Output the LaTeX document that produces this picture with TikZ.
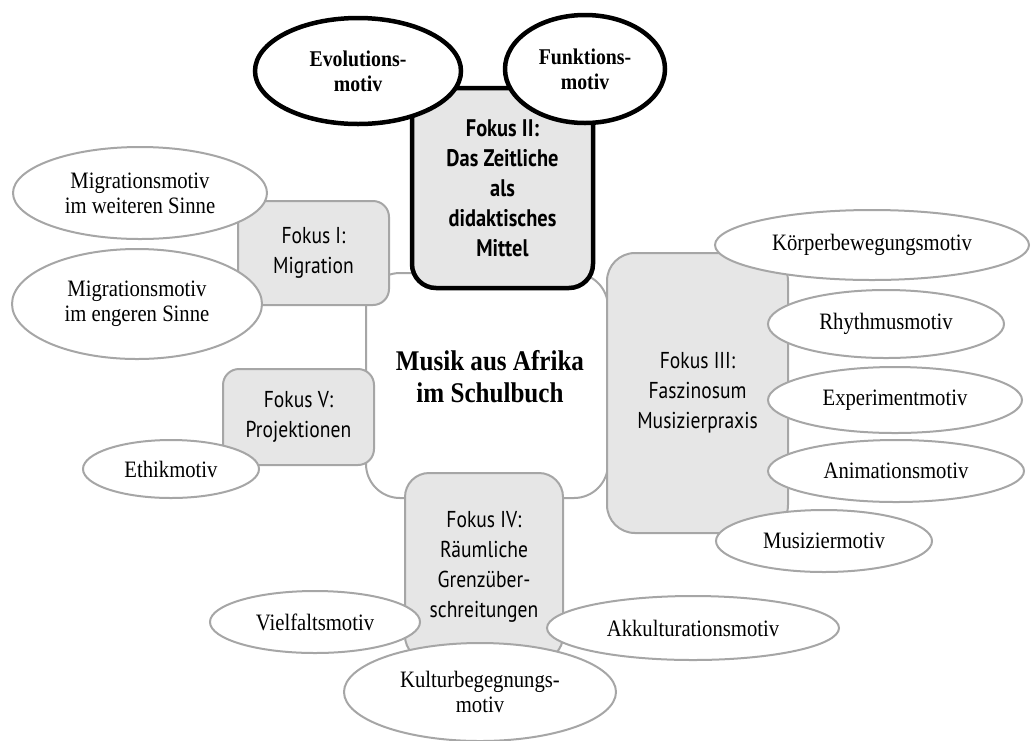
\documentclass[tikz,border=0pt]{standalone}
\usepackage{fontspec}
\setmainfont{Liberation Serif}[FakeStretch=0.88]
\setsansfont{PT Sans}[FakeStretch=0.85]
\usetikzlibrary{shapes.geometric}

\definecolor{edgegray}{HTML}{A6A6A6}
\definecolor{boxgray}{HTML}{E6E6E6}

\tikzset{
  centrebox/.style={draw=edgegray, fill=white, line width=2pt, rounded corners=34pt,
    inner sep=0pt},
  fokusbox/.style={draw=edgegray, fill=boxgray, line width=2pt, align=center,
    inner sep=0pt, font=\sffamily\fontsize{23}{30}\selectfont},
  keybox/.style={draw=black, fill=boxgray, line width=4.5pt, align=center,
    inner sep=0pt, rounded corners=24pt, font=\sffamily\bfseries\fontsize{24}{30}\selectfont},
  motif/.style={ellipse, draw=edgegray, fill=white, line width=2pt, inner sep=0pt,
    align=center, font=\fontsize{23.5}{25}\selectfont},
  keymotif/.style={ellipse, draw=black, fill=white, line width=4.5pt, inner sep=0pt,
    align=center, font=\bfseries\fontsize{22.5}{25}\selectfont},
}

\begin{document}
\begin{tikzpicture}[x=1pt, y=-1pt]
\useasboundingbox (0,0) rectangle (1033,740);

% central frame
\node[centrebox, minimum width=242pt, minimum height=225pt] (centre) at (487,385.5) {};

% focus boxes
\node[fokusbox, rounded corners=16pt, minimum width=151pt, minimum height=104pt]
  (f1) at (313.5,253) {Fokus I:\\Migration};
\node[fokusbox, rounded corners=28pt, minimum width=181pt, minimum height=280pt]
  (f3) at (697.5,393) {Fokus III:\\Faszinosum\\Musizierpraxis};
\node[fokusbox, rounded corners=24pt, minimum width=158pt, minimum height=187pt]
  (f4) at (484,566.5) {Fokus IV:\\Räumliche\\Grenzüber-\\schreitungen};
\node[fokusbox, rounded corners=16pt, minimum width=151pt, minimum height=96pt]
  (f5) at (298.5,417) {Fokus V:\\Projektionen};
\node[keybox, minimum width=181pt, minimum height=200pt]
  (f2) at (502.5,188) {Fokus II:\\Das Zeitliche\\als\\didaktisches\\Mittel};

% title
\node[align=center, font=\bfseries\fontsize{28.5}{32}\selectfont] (title) at (490,377)
  {Musik aus Afrika\\im Schulbuch};

% motifs of focus II
\node[keymotif, minimum width=206pt, minimum height=106pt] (evo) at (358,71) {Evolutions-\\motiv};
\node[keymotif, minimum width=160pt, minimum height=108pt] (funk) at (585,69) {Funktions-\\motiv};

% motifs of focus I and V
\node[motif, minimum width=254pt, minimum height=92pt] (migw) at (140,193) {Migrationsmotiv\\im weiteren Sinne};
\node[motif, minimum width=250pt, minimum height=110pt] (mige) at (137,304) {Migrationsmotiv\\im engeren Sinne};
\node[motif, minimum width=176pt, minimum height=58pt] (ethik) at (171,469) {Ethikmotiv};

% motifs of focus III
\node[motif, minimum width=314pt, minimum height=70pt] (koerper) at (872,245) {Körperbewegungsmotiv};
\node[motif, minimum width=236pt, minimum height=68pt] (rhythm) at (886,324) {Rhythmusmotiv};
\node[motif, minimum width=254pt, minimum height=66pt] (exper) at (895,400) {Experimentmotiv};
\node[motif, minimum width=256pt, minimum height=62pt] (anim) at (896,471) {Animationsmotiv};
\node[motif, minimum width=216pt, minimum height=62pt] (musiz) at (824,541) {Musiziermotiv};

% motifs of focus IV
\node[motif, minimum width=210pt, minimum height=62pt] (vielf) at (315,622) {Vielfaltsmotiv};
\node[motif, minimum width=292pt, minimum height=64pt] (akkult) at (693,628) {Akkulturationsmotiv};
\node[motif, minimum width=272pt, minimum height=98pt] (kultur) at (480,692) {Kulturbegegnungs-\\motiv};
\end{tikzpicture}
\end{document}
